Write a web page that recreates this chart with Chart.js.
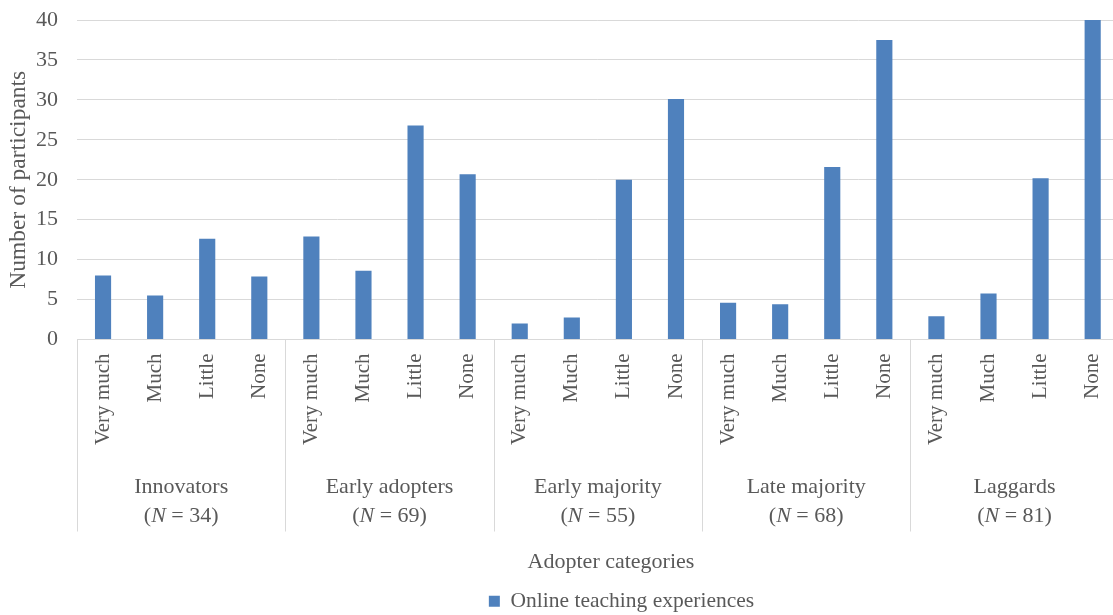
<!DOCTYPE html>
<html>
<head>
<meta charset="utf-8">
<title>Online teaching experiences by adopter category</title>
<script src="https://cdn.jsdelivr.net/npm/chart.js@4"></script>
<style>
  html, body { margin: 0; padding: 0; background: #fff; overflow: hidden; }
  #wrap { width: 1124px; height: 615px; }
</style>
</head>
<body>
<div id="wrap"><canvas id="chart"></canvas></div>
<script>
// adopter groups and the size of each group
const groups = ['Innovators', 'Early adopters', 'Early majority', 'Late majority', 'Laggards'];
const groupN = [34, 69, 55, 68, 81];
// experience levels repeated inside every group
const levels = ['Very much', 'Much', 'Little', 'None'];
// number of participants, group by group, level by level
const experiences = [
  8.0, 5.5, 12.6, 7.9,
  12.9, 8.6, 26.8, 20.7,
  2.0, 2.75, 20.0, 30.1,
  4.6, 4.4, 21.6, 37.5,
  2.9, 5.75, 20.2, 40.0
];
const yTicks = [0, 5, 10, 15, 20, 25, 30, 35, 40];

const FONT = "'Liberation Serif', 'Times New Roman', serif";
const TEXT = '#595959';
const GRID = '#d9d9d9';

const labels = groups.flatMap(() => levels);

// second row of the category axis: group names, N and the separators
const groupAxis = {
  id: 'groupAxis',
  afterLayout(chart) {
    // legend sits a little right of the plot centre
    chart.legend.left += 62;
    chart.legend.right += 62;
  },
  afterDraw(chart) {
    const { ctx, chartArea } = chart;
    const x = chart.scales.x;
    const per = levels.length;
    const step = x.getPixelForValue(1) - x.getPixelForValue(0);
    const top = chartArea.bottom;

    ctx.save();
    ctx.strokeStyle = GRID;
    ctx.lineWidth = 1;
    for (let g = 0; g <= groups.length; g++) {
      const px = Math.round(x.getPixelForValue(g * per) - step / 2) + 0.5;
      ctx.beginPath();
      ctx.moveTo(px, top);
      ctx.lineTo(px, top + 192);
      ctx.stroke();
    }

    ctx.fillStyle = TEXT;
    ctx.textBaseline = 'middle';
    const upright = '22px ' + FONT;
    const italic = 'italic 22px ' + FONT;
    groups.forEach((name, g) => {
      const cx = (x.getPixelForValue(g * per) + x.getPixelForValue(g * per + per - 1)) / 2;
      ctx.font = upright;
      ctx.textAlign = 'center';
      ctx.fillText(name, cx, top + 148);

      // "(N = 34)" with an italic N
      const parts = [['(', upright], ['N', italic], [' = ' + groupN[g] + ')', upright]];
      let total = 0;
      parts.forEach(p => { ctx.font = p[1]; total += ctx.measureText(p[0]).width; });
      let cur = cx - total / 2;
      ctx.textAlign = 'left';
      parts.forEach(p => {
        ctx.font = p[1];
        ctx.fillText(p[0], cur, top + 177);
        cur += ctx.measureText(p[0]).width;
      });
    });

    // axis title
    ctx.font = '22px ' + FONT;
    ctx.textAlign = 'center';
    ctx.fillText('Adopter categories', 611, top + 223);
    ctx.restore();
  }
};

new Chart(document.getElementById('chart'), {
  type: 'bar',
  data: {
    labels: labels,
    datasets: [{
      label: 'Online teaching experiences',
      data: experiences,
      backgroundColor: '#4f81bd',
      borderWidth: 0,
      categoryPercentage: 1,
      barPercentage: 0.31
    }]
  },
  options: {
    responsive: true,
    maintainAspectRatio: false,
    animation: false,
    layout: { padding: { top: 20, right: 5, left: 0, bottom: -7 } },
    plugins: {
      tooltip: { enabled: false },
      legend: {
        position: 'bottom',
        labels: {
          font: { family: FONT, size: 21.5 },
          color: TEXT,
          boxWidth: 11,
          boxHeight: 11,
          padding: 6
        }
      }
    },
    scales: {
      x: {
        grid: { display: false },
        border: { display: false },
        ticks: {
          color: TEXT,
          font: { family: FONT, size: 21 },
          maxRotation: 90,
          minRotation: 90,
          autoSkip: false,
          padding: 6
        },
        afterFit(scale) {
          scale.height = 245;
          scale.paddingTop = 0;
        }
      },
      y: {
        min: 0,
        max: 40,
        afterBuildTicks(scale) { scale.ticks = yTicks.map(v => ({ value: v })); },
        grid: { color: GRID, drawTicks: false },
        border: { display: false },
        ticks: {
          color: TEXT,
          font: { family: FONT, size: 22 },
          padding: 19
        },
        title: {
          display: true,
          text: 'Number of participants',
          color: TEXT,
          font: { family: FONT, size: 23.5 },
          padding: { top: 5, bottom: 0 }
        },
        afterFit(scale) {
          scale.width = 77;
          scale.paddingTop = 0;
        }
      }
    }
  },
  plugins: [groupAxis]
});
</script>
</body>
</html>
